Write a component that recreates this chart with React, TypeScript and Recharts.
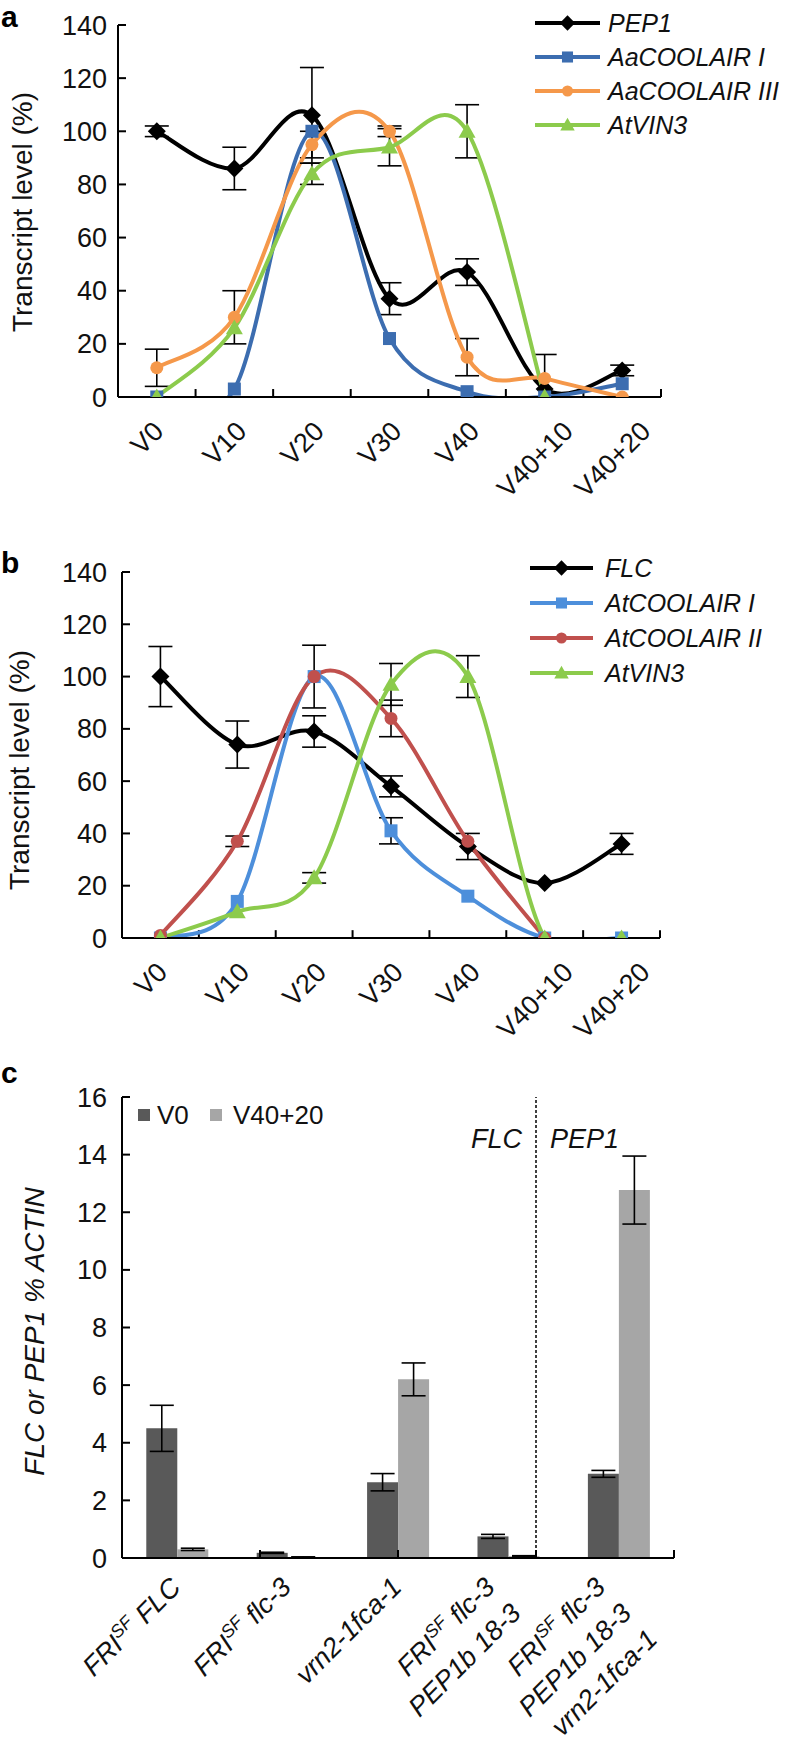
import React from 'react';
import { LineChart, Line, BarChart, Bar, XAxis, YAxis, ErrorBar, ReferenceLine, Legend, Label } from 'recharts';

const FONT = '"Liberation Sans", Arial, Helvetica, sans-serif';
const INK = '#111';

// time points shared by panels a and b
const timePoints = ['V0', 'V10', 'V20', 'V30', 'V40', 'V40+10', 'V40+20'];
const transcriptTicks = [0, 20, 40, 60, 80, 100, 120, 140];

// panel a - Arabis alpina
const pep1 = [100, 86, 106, 37, 47, 3, 10];
// lower whisker at V40+10 is cut by the axis in the figure
const pep1Err = [2, 8, 18, 6, 5, [3, 13], 2];
const aaCoolairI = [0, 3, 100, 22, 2, 0, 5];
const aaCoolairIErr = [null, null, null, null, null, null, null];
const aaCoolairIII = [11, 30, 95, 100, 15, 7, 0];
const aaCoolairIIIErr = [7, 10, 5, 2, 7, null, null];
const aVin3 = [0, 26, 84, 94, 100, 0, null];
const aVin3Err = [null, null, 4, 7, 10, null, null];

// panel b - Arabidopsis
const flc = [100, 74, 79, 58, 35, 21, 36];
const flcErr = [11.5, 9, 6, 4, 5, null, 4];
const atCoolairI = [0, 14, 100, 41, 16, 0, 0];
const atCoolairIErr = [null, null, 12, 5, null, null, null];
const atCoolairII = [1, 37, 100, 84, 37, 0, null];
const atCoolairIIErr = [null, 2, null, 7, null, null, null];
const bVin3 = [0, 10, 23, 97, 100, 0, 0];
const bVin3Err = [null, null, 2, 8, 8, null, null];

// panel c - genotypes (lines of each label, ^ marks superscript)
const genotypes = [
  ['FRI^SF FLC'],
  ['FRI^SF flc-3'],
  ['vrn2-1fca-1'],
  ['FRI^SF flc-3', 'PEP1b 18-3'],
  ['FRI^SF flc-3', 'PEP1b 18-3', 'vrn2-1fca-1'],
];
const v0 = [4.5, 0.18, 2.63, 0.75, 2.92];
const v0Err = [0.8, 0.02, 0.3, 0.07, 0.12];
const v4020 = [0.3, 0.03, 6.2, 0.06, 12.77];
const v4020Err = [0.04, 0.01, 0.57, 0.02, 1.18];
const actinTicks = [0, 2, 4, 6, 8, 10, 12, 14, 16];

const seriesA = [
  { key: 'pep1', name: 'PEP1', color: '#000000', shape: 'diamond', values: pep1, errors: pep1Err },
  { key: 'aaI', name: 'AaCOOLAIR I', color: '#3C6DB0', shape: 'square', values: aaCoolairI, errors: aaCoolairIErr },
  { key: 'aaIII', name: 'AaCOOLAIR III', color: '#F5984A', shape: 'circle', values: aaCoolairIII, errors: aaCoolairIIIErr },
  { key: 'vin3', name: 'AtVIN3', color: '#8CCB4C', shape: 'triangle', values: aVin3, errors: aVin3Err },
];

const seriesB = [
  { key: 'flc', name: 'FLC', color: '#000000', shape: 'diamond', values: flc, errors: flcErr },
  { key: 'atI', name: 'AtCOOLAIR I', color: '#4D8FDB', shape: 'square', values: atCoolairI, errors: atCoolairIErr },
  { key: 'atII', name: 'AtCOOLAIR II', color: '#C0504D', shape: 'circle', values: atCoolairII, errors: atCoolairIIErr },
  { key: 'vin3', name: 'AtVIN3', color: '#8CCB4C', shape: 'triangle', values: bVin3, errors: bVin3Err },
];

const buildRows = (series) =>
  timePoints.map((name, i) => {
    const row: any = { x: i + 0.5, name };
    series.forEach((s) => {
      row[s.key] = s.values[i];
      row[s.key + 'Err'] = s.errors[i];
    });
    return row;
  });

const barRows = genotypes.map((g, i) => ({ name: 'g' + i, v0: v0[i], v0Err: v0Err[i], v4020: v4020[i], v4020Err: v4020Err[i] }));

// rough advance widths (em) for the tick label glyphs
const GLYPH = { V: 0.667, '+': 0.584, ' ': 0.278 };
const textLen = (s, fs) => s.split('').reduce((w, c) => w + (GLYPH[c] ?? 0.556), 0) * fs;

// Excel style smoothed line (Catmull-Rom through the points)
const excelCurve = (context) => {
  let pts = [];
  return {
    areaStart() {},
    areaEnd() {},
    lineStart() {
      pts = [];
    },
    point(x, y) {
      pts.push([+x, +y]);
    },
    lineEnd() {
      if (!pts.length) return;
      context.moveTo(pts[0][0], pts[0][1]);
      for (let i = 0; i < pts.length - 1; i++) {
        const p0 = pts[i - 1] || pts[i];
        const p1 = pts[i];
        const p2 = pts[i + 1];
        const p3 = pts[i + 2] || p2;
        context.bezierCurveTo(
          p1[0] + (p2[0] - p0[0]) / 6,
          p1[1] + (p2[1] - p0[1]) / 6,
          p2[0] - (p3[0] - p1[0]) / 6,
          p2[1] - (p3[1] - p1[1]) / 6,
          p2[0],
          p2[1]
        );
      }
    },
  };
};

function Marker({ cx, cy, shape, color, s = 1 }) {
  if (cx == null || cy == null) return <g />;
  if (shape === 'diamond') {
    const r = 9 * s;
    return <polygon points={`${cx},${cy - r} ${cx + r},${cy} ${cx},${cy + r} ${cx - r},${cy}`} fill={color} />;
  }
  if (shape === 'square') {
    const h = 6.5 * s;
    return <rect x={cx - h} y={cy - h} width={2 * h} height={2 * h} fill={color} />;
  }
  if (shape === 'circle') return <circle cx={cx} cy={cy} r={6.5 * s} fill={color} />;
  const t = 8.5 * s;
  return <polygon points={`${cx},${cy - t} ${cx + t},${cy + t * 0.75} ${cx - t},${cy + t * 0.75}`} fill={color} />;
}

function SeriesLegend({ series, rowGap, lineW, textX }) {
  return (
    <svg width={260} height={rowGap * series.length + 10} style={{ overflow: 'visible' }}>
      {series.map((s, i) => {
        const y = 18 + i * rowGap;
        return (
          <g key={s.key}>
            <line x1={0} x2={lineW} y1={y} y2={y} stroke={s.color} strokeWidth={4} />
            <Marker cx={lineW / 2} cy={y} shape={s.shape} color={s.color} s={0.85} />
            <text x={textX} y={y} dominantBaseline="central" fontSize={25} fontStyle="italic" fontFamily={FONT} fill={INK}>
              {s.name}
            </text>
          </g>
        );
      })}
    </svg>
  );
}

// rotated labels are centred on the category like Excel does
const TimeTick = ({ x, y, payload }) => {
  const label = timePoints[Math.floor(payload.value)];
  const L = textLen(label, 27);
  const ax = x + (L + 19) / 2.83 - 10;
  return (
    <g transform={`translate(${ax},${y + 36}) rotate(-45)`}>
      <text textAnchor="end" fontSize={27} fontFamily={FONT} fill={INK}>
        {label}
      </text>
    </g>
  );
};

function richLine(line) {
  const parts = line.split(/\^(\S+)/);
  if (parts.length === 1) return line;
  return [
    <tspan key="a">{parts[0]}</tspan>,
    <tspan key="b" dy={-10} fontSize={18}>
      {parts[1]}
    </tspan>,
    <tspan key="c" dy={10}>
      {parts[2]}
    </tspan>,
  ];
}

const GenotypeTick = ({ x, y, payload }) => {
  const lines = genotypes[payload.index] || [];
  const shift = lines.length > 1 ? 17 : 0;
  return (
    <g>
      {lines.map((ln, i) => (
        <g key={i} transform={`translate(${x + 5 - shift + i * 26},${y + 31 + i * 26}) rotate(-45)`}>
          <text textAnchor="end" fontSize={27} fontStyle="italic" fontFamily={FONT} fill={INK}>
            {richLine(ln)}
          </text>
        </g>
      ))}
    </g>
  );
};

const yTitle = (text, dx, dy, italic) => (props) => {
  const vb = props.viewBox || { x: 0, y: 0, width: 0, height: 0 };
  const cx = vb.x + dx;
  const cy = vb.y + vb.height / 2 + dy;
  return (
    <text
      x={cx}
      y={cy}
      transform={`rotate(-90 ${cx} ${cy})`}
      textAnchor="middle"
      dominantBaseline="central"
      fontSize={28}
      fontStyle={italic ? 'italic' : 'normal'}
      fontFamily={FONT}
      fill={INK}
    >
      {text}
    </text>
  );
};

function TimeCourse({ series, height, margin, xHeight, yWidth, tickMargin, legendLeft, legendTop, rowGap, lineW, textX, titleDx, titleDy }) {
  const rows = buildRows(series);
  return (
    <LineChart width={788} height={height} data={rows} margin={margin}>
      <XAxis
        type="number"
        dataKey="x"
        domain={[0, timePoints.length]}
        ticks={timePoints.map((_, i) => i + 0.5)}
        interval={0}
        allowDataOverflow
        tickLine={false}
        tickSize={0}
        tickMargin={0}
        height={xHeight}
        axisLine={{ stroke: '#000', strokeWidth: 2 }}
        tick={<TimeTick />}
      />
      <YAxis
        type="number"
        domain={[0, 140]}
        ticks={transcriptTicks}
        interval={0}
        allowDataOverflow
        width={yWidth}
        tickSize={-8}
        tickMargin={tickMargin}
        axisLine={{ stroke: '#000', strokeWidth: 2 }}
        tickLine={{ stroke: '#000', strokeWidth: 2 }}
        tick={{ fill: INK, fontSize: 27, fontFamily: FONT }}
      >
        <Label content={yTitle('Transcript level (%)', titleDx, titleDy, false)} />
      </YAxis>
      {timePoints.map((_, i) => (
        <ReferenceLine
          key={'b' + i}
          segment={[
            { x: i + 1, y: 0 },
            { x: i + 1, y: 3 },
          ]}
          stroke="#000"
          strokeWidth={2}
        />
      ))}
      {series.map((s) => (
        <Line
          key={s.key}
          dataKey={s.key}
          name={s.name}
          type={excelCurve}
          stroke={s.color}
          strokeWidth={4}
          connectNulls={false}
          isAnimationActive={false}
          dot={(p) => <Marker key={s.key + p.index} cx={p.cx} cy={p.cy} shape={s.shape} color={s.color} />}
          activeDot={false}
        >
          <ErrorBar dataKey={s.key + 'Err'} direction="y" width={12} stroke="#000" strokeWidth={1.6} />
        </Line>
      ))}
      <Legend
        layout="vertical"
        align="center"
        verticalAlign="middle"
        wrapperStyle={{ left: legendLeft, top: legendTop, width: 260 }}
        content={() => <SeriesLegend series={series} rowGap={rowGap} lineW={lineW} textX={textX} />}
      />
    </LineChart>
  );
}

const SplitLabel = (props) => {
  const vb = props.viewBox || { x: 0, y: 0 };
  const ty = vb.y + 51;
  return (
    <g>
      <text x={vb.x - 14} y={ty} textAnchor="end" fontSize={27} fontStyle="italic" fontFamily={FONT} fill={INK}>
        FLC
      </text>
      <text x={vb.x + 14} y={ty} textAnchor="start" fontSize={27} fontStyle="italic" fontFamily={FONT} fill={INK}>
        PEP1
      </text>
    </g>
  );
};

function BarLegend() {
  return (
    <svg width={220} height={30} style={{ overflow: 'visible' }}>
      <rect x={0} y={9} width={12} height={12} fill="#595959" />
      <text x={19} y={15} dominantBaseline="central" fontSize={26} fontFamily={FONT} fill={INK}>
        V0
      </text>
      <rect x={72} y={9} width={12} height={12} fill="#A6A6A6" />
      <text x={95} y={15} dominantBaseline="central" fontSize={26} fontFamily={FONT} fill={INK}>
        V40+20
      </text>
    </svg>
  );
}

function GenotypeBars() {
  return (
    <BarChart width={788} height={714} data={barRows} margin={{ top: 57, right: 114, bottom: 0, left: 0 }} barCategoryGap="22%" barGap={0}>
      <XAxis
        dataKey="name"
        interval={0}
        tickLine={false}
        tickSize={0}
        tickMargin={0}
        height={196}
        axisLine={{ stroke: '#000', strokeWidth: 2 }}
        tick={<GenotypeTick />}
      />
      <XAxis xAxisId="bounds" type="number" domain={[0, genotypes.length]} allowDataOverflow hide />
      <YAxis
        type="number"
        domain={[0, 16]}
        ticks={actinTicks}
        interval={0}
        allowDataOverflow
        width={122}
        tickSize={-8}
        tickMargin={23}
        axisLine={{ stroke: '#000', strokeWidth: 2 }}
        tickLine={{ stroke: '#000', strokeWidth: 2 }}
        tick={{ fill: INK, fontSize: 27, fontFamily: FONT }}
      >
        <Label content={yTitle('FLC or PEP1 % ACTIN', 34, 4, true)} />
      </YAxis>
      {genotypes.map((_, i) => (
        <ReferenceLine
          key={'t' + i}
          xAxisId="bounds"
          segment={[
            { x: i + 1, y: 0 },
            { x: i + 1, y: 0.28 },
          ]}
          stroke="#000"
          strokeWidth={2}
        />
      ))}
      <ReferenceLine xAxisId="bounds" x={3} stroke="#000" strokeWidth={1.5} strokeDasharray="3 2" label={<SplitLabel />} />
      <Bar dataKey="v0" name="V0" fill="#595959" isAnimationActive={false}>
        <ErrorBar dataKey="v0Err" direction="y" width={12} stroke="#000" strokeWidth={1.6} />
      </Bar>
      <Bar dataKey="v4020" name="V40+20" fill="#A6A6A6" isAnimationActive={false}>
        <ErrorBar dataKey="v4020Err" direction="y" width={12} stroke="#000" strokeWidth={1.6} />
      </Bar>
      <Legend layout="vertical" align="center" verticalAlign="middle" wrapperStyle={{ left: 138, top: 60, width: 220 }} content={() => <BarLegend />} />
    </BarChart>
  );
}

export default function App() {
  return (
    <div style={{ position: 'absolute', left: 0, top: 0, width: 788, height: 1754, background: '#fff', fontFamily: FONT }}>
      <div style={{ position: 'absolute', left: 0, top: 0 }}>
        <TimeCourse
          series={seriesA}
          height={520}
          margin={{ top: 25, right: 127, bottom: 0, left: 0 }}
          xHeight={123}
          yWidth={118}
          tickMargin={19}
          legendLeft={535}
          legendTop={5}
          rowGap={34}
          lineW={65}
          textX={73}
          titleDx={22}
          titleDy={1}
        />
      </div>
      <div style={{ position: 'absolute', left: 0, top: 1040 }}>
        <GenotypeBars />
      </div>
      <div style={{ position: 'absolute', left: 0, top: 520 }}>
        <TimeCourse
          series={seriesB}
          height={560}
          margin={{ top: 52, right: 128, bottom: 0, left: 0 }}
          xHeight={142}
          yWidth={122}
          tickMargin={23}
          legendLeft={530}
          legendTop={30}
          rowGap={35}
          lineW={63}
          textX={75}
          titleDx={19}
          titleDy={15}
        />
      </div>
      <svg width={788} height={1754} style={{ position: 'absolute', left: 0, top: 0, pointerEvents: 'none' }}>
        <text x={1} y={27} fontSize={30} fontWeight="bold" fontFamily={FONT} fill="#000">a</text>
        <text x={1} y={573} fontSize={30} fontWeight="bold" fontFamily={FONT} fill="#000">b</text>
        <text x={1} y={1083} fontSize={30} fontWeight="bold" fontFamily={FONT} fill="#000">c</text>
      </svg>
    </div>
  );
}
